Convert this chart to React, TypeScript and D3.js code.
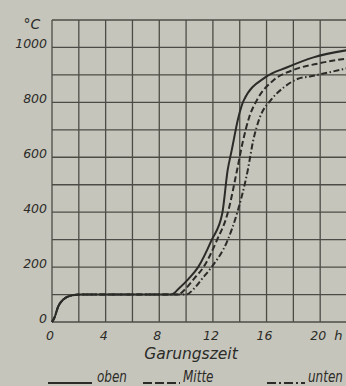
import React, { useEffect, useRef } from "react";
import { select, scaleLinear, line, curveMonotoneX, range } from "d3";

// Garungszeit in h, Temperatur in °C
const obenZeit = [0, 0.2, 0.45, 0.8, 1.5, 2.2, 8.9, 9.5, 10.2, 10.9, 11.9, 12.7, 13.1, 13.4, 13.9, 14.3, 15.9, 17.5, 19.5, 22];
const obenTemp = [0, 18, 55, 80, 97, 100, 100, 124, 158, 200, 298, 396, 553, 625, 745, 807, 891, 927, 964, 990];

const mitteZeit = [0, 0.2, 0.45, 0.8, 1.5, 2.2, 9.4, 10.0, 10.6, 11.3, 12.3, 13.1, 13.8, 14.2, 14.7, 15.3, 16.5, 18, 20, 22];
const mitteTemp = [0, 18, 55, 80, 97, 100, 100, 123, 158, 200, 298, 396, 553, 650, 745, 810, 880, 918, 943, 960];

const untenZeit = [0, 0.2, 0.45, 0.8, 1.5, 2.2, 10.0, 10.6, 11.2, 11.9, 13.1, 13.8, 14.6, 15.0, 15.5, 16.3, 17.3, 18.3, 19.3, 22];
const untenTemp = [0, 18, 55, 80, 97, 100, 100, 122, 158, 200, 298, 396, 553, 660, 745, 807, 855, 885, 895, 924];

const xTicks = [0, 4, 8, 12, 16, 20];
const yTicks = [0, 200, 400, 600, 800, 1000];

const series = [
  { name: "oben", zeit: obenZeit, temp: obenTemp, dash: null, legendDash: null },
  { name: "Mitte", zeit: mitteZeit, temp: mitteTemp, dash: "6,3", legendDash: "9,3" },
  { name: "unten", zeit: untenZeit, temp: untenTemp, dash: "6,2.5,1.5,2.5", legendDash: "9,3,2,3" },
];

const W = 346;
const H = 386;
const ink = "#2b2b28";
const font = "'DejaVu Sans', sans-serif";

const App = () => {
  const svgRef = useRef(null);

  useEffect(() => {
    const svg = select(svgRef.current);
    svg.selectAll("*").remove();

    const x = scaleLinear().domain([0, 22]).range([52, 347]);
    const y = scaleLinear().domain([0, 1100]).range([322, 20]);

    svg.append("rect").attr("width", W).attr("height", H).attr("fill", "#c6c5bc");

    // Gitter
    const grid = svg.append("g").attr("stroke", "#4c4c46").attr("stroke-width", 1.3);
    grid.selectAll("line.v")
      .data(range(0, 23, 2))
      .join("line")
      .attr("x1", (d) => x(d))
      .attr("x2", (d) => x(d))
      .attr("y1", y(1100))
      .attr("y2", y(0));
    grid.selectAll("line.h")
      .data(range(0, 1101, 100))
      .join("line")
      .attr("x1", x(0))
      .attr("x2", x(22))
      .attr("y1", (d) => y(d))
      .attr("y2", (d) => y(d));

    // y-Beschriftung
    svg.append("g")
      .selectAll("text")
      .data(yTicks)
      .join("text")
      .attr("x", 47)
      .attr("y", (d) => y(d) + 1)
      .attr("text-anchor", "end")
      .attr("font-family", font)
      .attr("font-style", "italic")
      .attr("font-size", 12.5)
      .attr("fill", ink)
      .text((d) => d);

    svg.append("text")
      .attr("x", 32)
      .attr("y", 29)
      .attr("text-anchor", "middle")
      .attr("font-family", font)
      .attr("font-style", "italic")
      .attr("font-size", 14)
      .attr("fill", ink)
      .text("°C");

    // x-Beschriftung
    svg.append("g")
      .selectAll("text")
      .data(xTicks)
      .join("text")
      .attr("x", (d) => x(d) - 2)
      .attr("y", 340)
      .attr("text-anchor", "middle")
      .attr("font-family", font)
      .attr("font-style", "italic")
      .attr("font-size", 12.5)
      .attr("fill", ink)
      .text((d) => d);
    svg.append("text")
      .attr("x", x(20) + 14)
      .attr("y", 340)
      .attr("font-family", font)
      .attr("font-style", "italic")
      .attr("font-size", 13)
      .attr("fill", ink)
      .text("h");

    svg.append("text")
      .attr("x", 191)
      .attr("y", 359)
      .attr("text-anchor", "middle")
      .attr("font-family", font)
      .attr("font-style", "italic")
      .attr("font-size", 15.5)
      .attr("fill", ink)
      .text("Garungszeit");

    // Kurven
    const plot = svg.append("g");
    series.forEach((s) => {
      const pts = s.zeit.map((t, i) => [t, s.temp[i]]);
      const gen = line()
        .x((d) => x(d[0]))
        .y((d) => y(d[1]))
        .curve(curveMonotoneX);
      plot.append("path")
        .attr("d", gen(pts))
        .attr("fill", "none")
        .attr("stroke", ink)
        .attr("stroke-width", 2)
        .attr("stroke-dasharray", s.dash);
    });

    // Legende
    const legendPos = [
      { x1: 48, x2: 92, tx: 97 },
      { x1: 143, x2: 180, tx: 183 },
      { x1: 267, x2: 305, tx: 308 },
    ];
    series.forEach((s, i) => {
      const p = legendPos[i];
      svg.append("line")
        .attr("x1", p.x1)
        .attr("x2", p.x2)
        .attr("y1", 383)
        .attr("y2", 383)
        .attr("stroke", ink)
        .attr("stroke-width", 2)
        .attr("stroke-dasharray", s.legendDash);
      svg.append("text")
        .attr("transform", `translate(${p.tx},382) scale(1,1.3)`)
        .attr("font-family", font)
        .attr("font-style", "italic")
        .attr("font-size", 12)
        .attr("fill", ink)
        .text(s.name);
    });
  }, []);

  return (
    <svg
      ref={svgRef}
      width={W}
      height={H}
      style={{ position: "absolute", left: 0, top: 0 }}
    ></svg>
  );
};

export default App;
